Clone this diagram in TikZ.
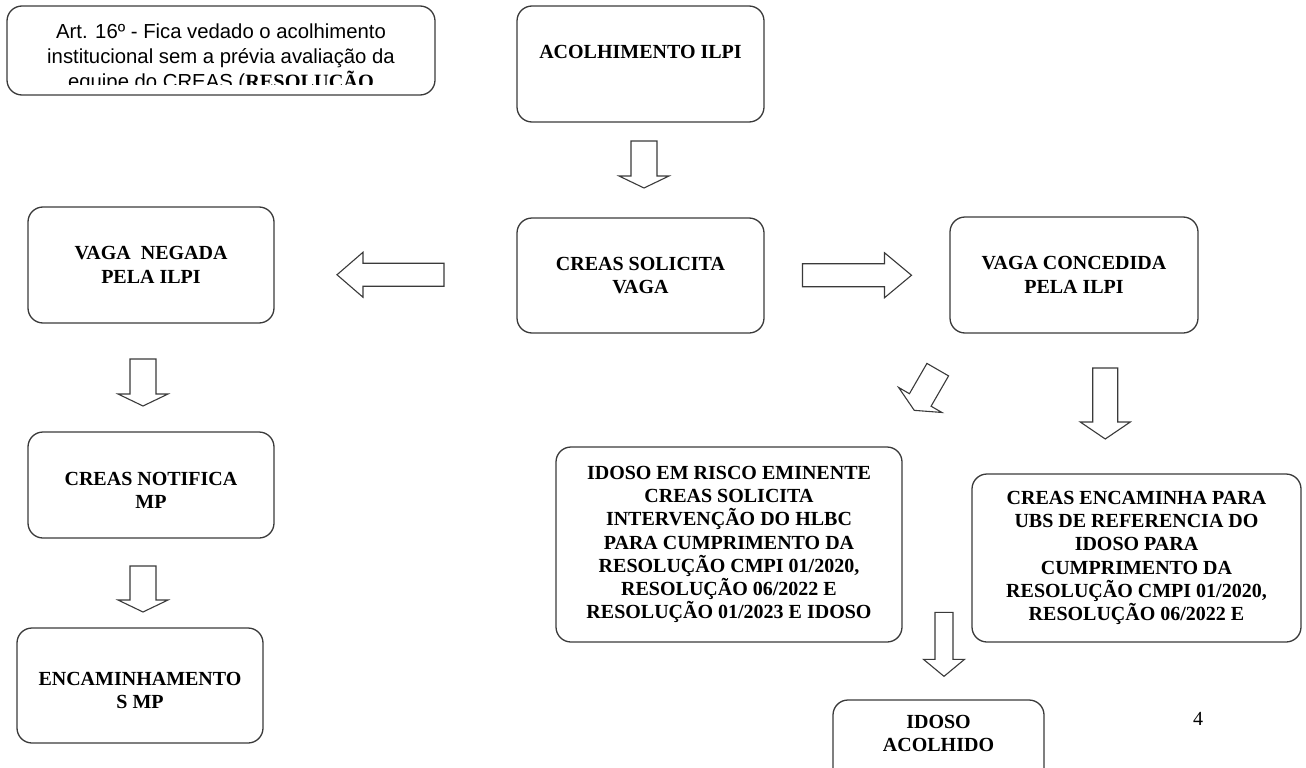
\documentclass[tikz,border=0pt]{standalone}
\usepackage{fontspec}
\setmainfont{Liberation Serif}
\newfontfamily\artfont{Liberation Sans}
\usetikzlibrary{calc}
\definecolor{boxgray}{HTML}{3A3A3A}
\newcommand{\boxfont}{\fontsize{20}{23.3}\selectfont\bfseries}

\tikzset{
  flowbox/.style={draw=boxgray, line width=1.3pt, rounded corners=15pt, align=center, font=\boxfont, inner sep=0pt},
  blkline/.style={draw=boxgray, line width=1.1pt, fill=white, line join=miter},
  pics/blkarrow/.style n args={4}{code={
    \draw[blkline] (-#2,-#1/2) -- (#2,-#1/2) -- (#2,#1/2-#4) -- (#3,#1/2-#4) -- (0,#1/2)
      -- (-#3,#1/2-#4) -- (-#2,#1/2-#4) -- cycle;}}
}

\begin{document}
\begin{tikzpicture}[x=1pt, y=-1pt]
  \useasboundingbox (0,0) rectangle (1306,768);
  \clip (0,0) rectangle (1306,768);

  % Note on Art. 16
  \node[flowbox, minimum width=428, minimum height=89] (art) at (221,50.5) {};
  \begin{scope}
    \clip (8,7) rectangle (434,84);
    \node[align=center, inner sep=0pt, font=\artfont\fontsize{20.3}{25}\selectfont] (arttxt) at (221,58)
      {Art. 16º - Fica vedado o acolhimento\\institucional sem a prévia avaliação da\\equipe do CREAS ({\rmfamily\bfseries RESOLUÇÃO}};
  \end{scope}

  % Main column
  \node[flowbox, minimum width=247, minimum height=116] (acol) at (640.5,64) {ACOLHIMENTO ILPI\\~};
  \node[flowbox, minimum width=247, minimum height=115] (sol) at (640.5,275.5) {CREAS SOLICITA\\VAGA};

  % Left branch
  \node[flowbox, minimum width=246, minimum height=116] (neg) at (151,265) {VAGA\ \ NEGADA\\PELA ILPI};
  \node[flowbox, minimum width=246, minimum height=106] (notif) at (151,485) {~\\CREAS NOTIFICA\\MP};
  \node[flowbox, minimum width=246, minimum height=115] (enc) at (140,685.5) {~\\ENCAMINHAMENTO\\S MP};

  % Right branch
  \node[flowbox, minimum width=248, minimum height=116] (conc) at (1074,275) {VAGA CONCEDIDA\\PELA ILPI};
  \node[flowbox, minimum width=346, minimum height=195] (risco) at (729,544.5)
    {IDOSO EM RISCO EMINENTE\\CREAS SOLICITA\\INTERVENÇÃO DO HLBC\\PARA CUMPRIMENTO DA\\RESOLUÇÃO CMPI 01/2020,\\RESOLUÇÃO 06/2022 E\\RESOLUÇÃO 01/2023 E IDOSO};
  \node[flowbox, minimum width=329, minimum height=168] (encam) at (1136.5,558)
    {CREAS ENCAMINHA PARA\\UBS DE REFERENCIA DO\\IDOSO PARA\\CUMPRIMENTO DA\\RESOLUÇÃO CMPI 01/2020,\\RESOLUÇÃO 06/2022 E};
  \node[flowbox, minimum width=211, minimum height=90] (acolh) at (938.5,745) {IDOSO\\ACOLHIDO\\~};

  % Page number
  \node[font=\fontsize{20}{24}\selectfont] (pnum) at (1198,719) {4};

  % Block arrows
  \pic at ($(acol.south)!.5!(sol.north)+(3.5,-5.5)$) {blkarrow={47}{13}{25}{12}};
  \pic[rotate=-90] at ($(neg.east)!.5!(sol.west)+(-5,4.5)$) {blkarrow={107}{11.5}{22.5}{26}};
  \pic[rotate=90] at ($(sol.east)!.5!(conc.west)$) {blkarrow={109}{11.5}{22.5}{27}};
  \pic at ($(neg.south)!.5!(notif.north)+(-8,5)$) {blkarrow={47}{13}{25}{12}};
  \pic at ($(notif.south)!.5!(enc.north)+(-2.5,6)$) {blkarrow={46}{13}{25}{12}};
  \pic[rotate=-30] at ($(conc.south west)!.5!(risco.north east)$) {blkarrow={47}{12.5}{25}{12}};
  \pic at ($(conc.south)!.5!(encam.north)$) {blkarrow={71}{12.5}{25}{17}};
  \pic at ($(acolh.north)+(5.5,-55)$) {blkarrow={64}{9}{20.5}{17}};
\end{tikzpicture}
\end{document}
